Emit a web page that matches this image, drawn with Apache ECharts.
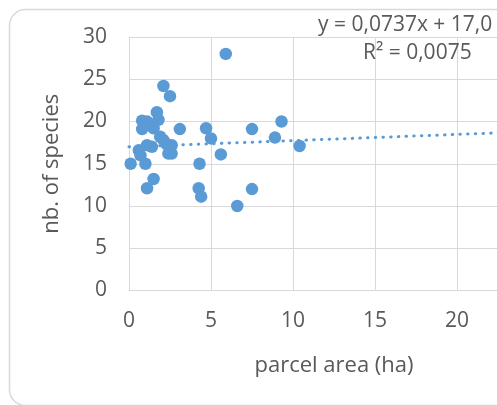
<!DOCTYPE html>
<html><head><meta charset="utf-8">
<script src="https://cdn.jsdelivr.net/npm/echarts@6/dist/echarts.min.js"></script>
<style>html,body{margin:0;padding:0;background:#fff}#c{width:497px;height:405px}</style>
</head><body><div id="c"></div>
<script>
const areaHa = [0.1, 0.7, 1.0, 1.1, 0.6, 0.8, 0.8, 1.1, 1.5, 1.7, 1.8, 1.9, 2.1, 2.3, 2.4, 2.6, 2.1, 2.5, 3.1, 1.5, 1.1, 4.3, 4.25, 4.4, 4.7, 5.0, 5.6, 5.9, 6.6, 7.5, 7.5, 8.9, 9.3, 10.4, 1.4, 2.6];
const nbSpecies = [15.0, 16.0, 15.0, 17.2, 16.6, 19.1, 20.1, 20.0, 19.2, 21.1, 20.2, 18.2, 17.8, 17.3, 16.2, 16.2, 24.2, 23.0, 19.1, 13.2, 12.1, 15.0, 12.1, 11.1, 19.2, 18.0, 16.1, 28.0, 10.0, 19.1, 12.0, 18.1, 20.0, 17.1, 17.0, 17.2];
const trendX = [0, 25];
const trendY = [17.0, 18.84];
const xTicks = [0, 5, 10, 15, 20, 25];
const yTicks = [0, 5, 10, 15, 20, 25, 30];
const eqLine1 = 'y = 0,0737x + 17,0';
const eqLine2 = 'R² = 0,0075';

const FONT = '"Open Sans", sans-serif';
const GREY = '#595959';
const BLUE = '#5b9bd5';
const chart = echarts.init(document.getElementById('c'), null, {renderer: 'canvas'});
chart.setOption({
  animation: false,
  backgroundColor: '#fff',
  grid: {left: 129, top: 37, right: -42, bottom: 114.5, containLabel: false, outerBoundsMode: 'none'},
  xAxis: {
    type: 'value', min: xTicks[0], max: xTicks[xTicks.length - 1], interval: 5,
    name: 'parcel area (ha)', nameLocation: 'middle', nameGap: 64,
    nameTextStyle: {fontFamily: FONT, fontSize: 22, color: GREY},
    axisLine: {show: true, lineStyle: {color: '#d9d9d9', width: 1}},
    axisTick: {show: false},
    axisLabel: {fontFamily: FONT, fontSize: 21, color: GREY, margin: 20},
    splitLine: {show: true, lineStyle: {color: '#d9d9d9', width: 1}}
  },
  yAxis: {
    type: 'value', min: yTicks[0], max: yTicks[yTicks.length - 1], interval: 5,
    name: 'nb. of species', nameLocation: 'middle', nameGap: 66,
    nameTextStyle: {fontFamily: FONT, fontSize: 22, color: GREY},
    axisLine: {show: true, lineStyle: {color: '#d9d9d9', width: 1}},
    axisTick: {show: false},
    axisLabel: {fontFamily: FONT, fontSize: 21, color: GREY, margin: 22},
    splitLine: {show: true, lineStyle: {color: '#d9d9d9', width: 1}}
  },
  series: [
    {
      type: 'line', data: trendX.map((x, i) => [x, trendY[i]]),
      showSymbol: false, symbol: 'none', silent: true, z: 1,
      lineStyle: {color: BLUE, width: 3, type: [0.5, 7.2], cap: 'round'}
    },
    {
      type: 'scatter', data: areaHa.map((x, i) => [x, nbSpecies[i]]),
      symbol: 'circle', symbolSize: 12.5, z: 2,
      itemStyle: {color: BLUE, opacity: 1}
    }
  ],
  graphic: [
    {type: 'rect', left: 7, top: 7, shape: {width: 540, height: 396, r: 16}, z: -10,
     style: {fill: 'none', stroke: '#d9d9d9', lineWidth: 1.5}},
    {type: 'text', left: 318, top: 15, z: 10,
     style: {text: eqLine1, fontFamily: FONT, fontSize: 21, fill: GREY}},
    {type: 'text', left: 363, top: 43, z: 10,
     style: {text: eqLine2, fontFamily: FONT, fontSize: 21, fill: GREY}}
  ]
});
</script></body></html>
